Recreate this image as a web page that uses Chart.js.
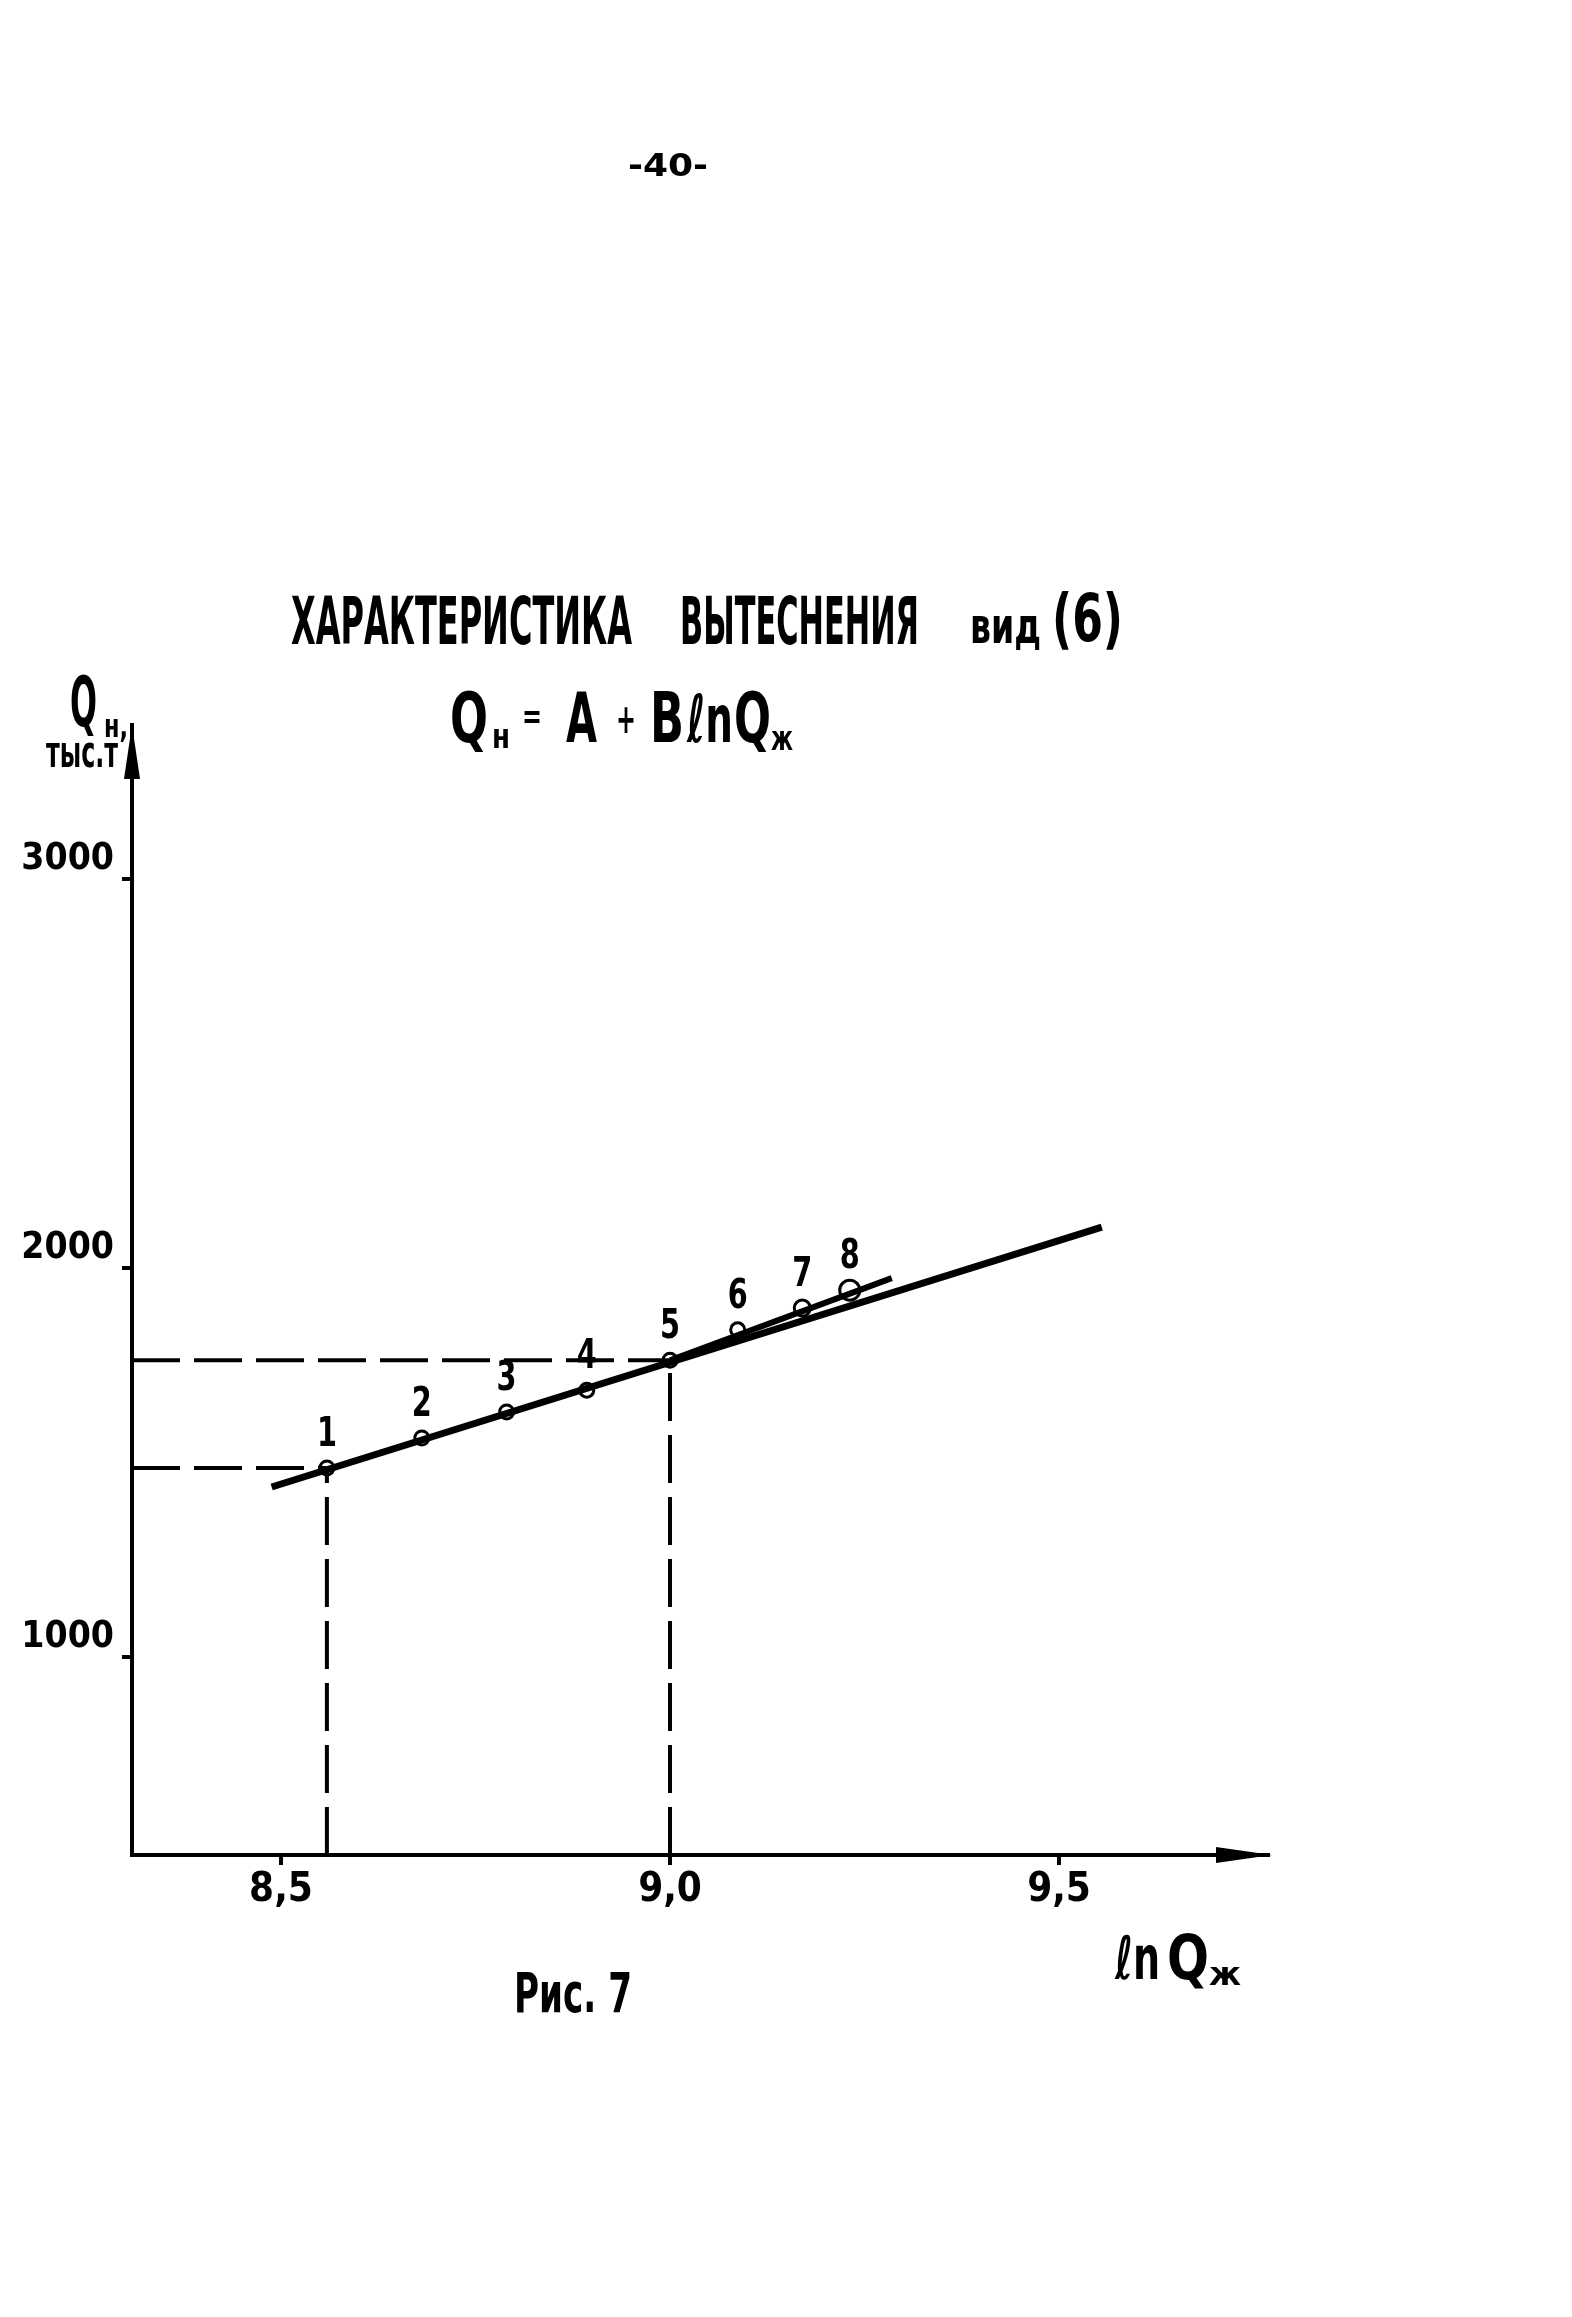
<!DOCTYPE html>
<html lang="ru">
<head>
<meta charset="UTF-8">
<title>Характеристика вытеснения</title>
<script src="https://cdn.jsdelivr.net/npm/chart.js"></script>
<style>
  html, body { margin: 0; padding: 0; background: #fff; }
  canvas { display: block; }
</style>
</head>
<body>
<canvas id="chart" width="1572" height="2317"></canvas>
<script>
// точки 1..8 : ln Qж и Qн (тыс.т)
const pointLabels = ['1', '2', '3', '4', '5', '6', '7', '8'];
const lnQl = [8.559, 8.681, 8.790, 8.893, 9.0, 9.087, 9.170, 9.231];
const Qn = [1486, 1563, 1630, 1686, 1763, 1841, 1897, 1943];

// прямая Qн = A + B ln Qж (концы)
const fitX = [8.488, 9.555];
const fitY = [1437, 2105];
// короткий отрезок по точкам 5-8
const fit2X = [9.0, 9.285];
const fit2Y = [1763, 1974];

const xTicks = [8.5, 9.0, 9.5];
const xTickLabels = ['8,5', '9,0', '9,5'];
const yTicks = [1000, 2000, 3000];
const yTickLabels = ['1000', '2000', '3000'];

const xMin = 8.3085, xMax = 9.7686;
const yMin = 491, yMax = 3396;

const FONT = "'DejaVu Sans Condensed', 'Liberation Sans Narrow', sans-serif";

function pairs(xs, ys) { return xs.map((x, i) => ({ x: x, y: ys[i] })); }

// текст, сжатый по ширине под рукописный шрифт оригинала
function txt(ctx, s, x, y, size, w, weight) {
  ctx.save();
  ctx.font = (weight || 'bold') + ' ' + size + 'px ' + FONT;
  ctx.fillStyle = '#000';
  ctx.textAlign = 'left';
  ctx.textBaseline = 'alphabetic';
  const m = ctx.measureText(s).width;
  ctx.translate(x, y);
  if (w) ctx.scale(w / m, 1);
  ctx.fillText(s, 0, 0);
  ctx.restore();
}

const decor = {
  id: 'decor',
  afterDraw(chart) {
    const ctx = chart.ctx;
    const a = chart.chartArea;

    // стрелки осей
    ctx.save();
    ctx.fillStyle = '#000';
    ctx.beginPath();
    ctx.moveTo(a.left, a.top);
    ctx.lineTo(a.left - 8, a.top + 54);
    ctx.lineTo(a.left + 8, a.top + 54);
    ctx.closePath();
    ctx.fill();
    ctx.beginPath();
    ctx.moveTo(a.right + 4, a.bottom);
    ctx.lineTo(a.right - 52, a.bottom - 8);
    ctx.lineTo(a.right - 52, a.bottom + 8);
    ctx.closePath();
    ctx.fill();
    ctx.restore();

    // номера точек
    const meta = chart.getDatasetMeta(6);
    meta.data.forEach((p, i) => {
      txt(ctx, pointLabels[i], p.x - 10, p.y - 22, 40, 20);
    });

    // страница
    txt(ctx, '-40-', 628, 176, 32, 80);

    // заголовок
    txt(ctx, 'ХАРАКТЕРИСТИКА', 291, 644, 66, 341);
    txt(ctx, 'ВЫТЕСНЕНИЯ', 680, 644, 66, 239);
    txt(ctx, 'вид', 970, 643, 50, 71);
    txt(ctx, '(6)', 1052, 641, 66, 71);

    // формула Qн = A + B ln Qж
    txt(ctx, 'Q', 450, 742, 70, 38);
    txt(ctx, 'н', 492, 748, 34, 18);
    txt(ctx, '=', 522, 728, 34, 20);
    txt(ctx, 'A', 566, 742, 70, 31);
    txt(ctx, '+', 616, 733, 40, 20);
    txt(ctx, 'B', 650, 742, 70, 34);
    txt(ctx, 'ℓn', 687, 742, 66, 46);
    txt(ctx, 'Q', 734, 742, 70, 37);
    txt(ctx, 'ж', 771, 750, 34, 22);

    // подпись оси Y
    txt(ctx, 'Q', 70, 726, 70, 27);
    txt(ctx, 'н,', 104, 737, 32, 24);
    txt(ctx, 'тыс.т', 46, 767, 44, 72);

    // подпись оси X
    txt(ctx, 'ℓn', 1115, 1979, 60, 45);
    txt(ctx, 'Q', 1167, 1979, 62, 42);
    txt(ctx, 'ж', 1209, 1985, 32, 32);

    txt(ctx, 'Рис. 7', 514, 2012, 56, 118);
  }
};

const dashStyle = {
  showLine: true, borderColor: '#000', borderWidth: 4,
  borderDash: [48, 14], pointRadius: 0, fill: false
};

new Chart(document.getElementById('chart'), {
  type: 'scatter',
  data: {
    datasets: [
      Object.assign({ data: [{ x: xMin, y: Qn[0] }, { x: lnQl[0], y: Qn[0] }] }, dashStyle),
      Object.assign({ data: [{ x: xMin, y: Qn[4] }, { x: lnQl[4], y: Qn[4] }] }, dashStyle),
      Object.assign({ data: [{ x: lnQl[0], y: yMin }, { x: lnQl[0], y: Qn[0] }] }, dashStyle),
      Object.assign({ data: [{ x: lnQl[4], y: yMin }, { x: lnQl[4], y: Qn[4] }] }, dashStyle),
      {
        data: pairs(fitX, fitY), showLine: true, borderColor: '#000',
        borderWidth: 7, pointRadius: 0
      },
      {
        data: pairs(fit2X, fit2Y), showLine: true, borderColor: '#000',
        borderWidth: 6, pointRadius: 0
      },
      {
        data: pairs(lnQl, Qn), showLine: false,
        pointRadius: [7, 7, 7, 7, 7, 7, 8, 10],
        pointBackgroundColor: '#fff', pointBorderColor: '#000', pointBorderWidth: 3
      }
    ]
  },
  options: {
    responsive: false,
    animation: false,
    layout: { padding: { left: 0, top: 725, right: 304, bottom: 362 } },
    plugins: { legend: { display: false }, tooltip: { enabled: false } },
    scales: {
      x: {
        type: 'linear', min: xMin, max: xMax,
        afterFit: s => { s.height = 100; },
        afterBuildTicks: s => { s.ticks = xTicks.map(v => ({ value: v })); },
        ticks: {
          callback: v => xTickLabels[xTicks.indexOf(v)],
          font: { family: FONT, size: 40, weight: 'bold' },
          color: '#000', padding: 2, maxRotation: 0, autoSkip: false
        },
        grid: { display: true, drawOnChartArea: false, drawTicks: true, tickLength: 10, color: '#000', lineWidth: 4 },
        border: { display: true, color: '#000', width: 4 }
      },
      y: {
        type: 'linear', min: yMin, max: yMax,
        afterFit: s => { s.width = 132; },
        afterBuildTicks: s => { s.ticks = yTicks.map(v => ({ value: v })); },
        ticks: {
          callback: v => yTickLabels[yTicks.indexOf(v)],
          font: { family: FONT, size: 37, weight: 'bold' },
          color: '#000', padding: 8, labelOffset: -20, autoSkip: false
        },
        grid: { display: true, drawOnChartArea: false, drawTicks: true, tickLength: 10, color: '#000', lineWidth: 4 },
        border: { display: true, color: '#000', width: 4 }
      }
    }
  },
  plugins: [decor]
});
</script>
</body>
</html>
